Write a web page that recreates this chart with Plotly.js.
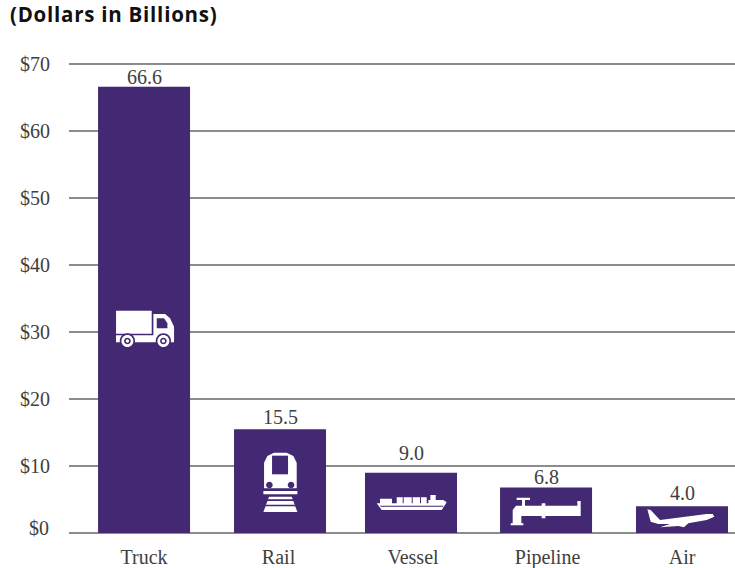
<!DOCTYPE html>
<html>
<head>
<meta charset="utf-8">
<script src="https://cdn.plot.ly/plotly-3.0.1.min.js"></script>
<style>html,body{margin:0;padding:0;background:#fff}#chart{width:735px;height:568px}.gtitle{letter-spacing:.75px}</style>
</head>
<body>
<div id="chart"></div>
<script>
// Value of freight moved by mode of transport
const categories = ['Truck', 'Rail', 'Vessel', 'Pipeline', 'Air'];
const values = [66.6, 15.5, 9.0, 6.8, 4.0];
const yTickValues = [0, 10, 20, 30, 40, 50, 60, 70];
const yTickLabels = ['', '$10', '$20', '$30', '$40', '$50', '$60', '$70'];
const baselineLabel = '$0';

const PURPLE = '#432873';
const WHITE = '#ffffff';
const INK = '#404040';
const SERIF = '"Liberation Serif", serif';

// Gaps between each bar top and its value label, and bar shifts within their slots
const labelGaps = [10, 12, 20, 10, 13];
const barOffsets = [-0.342, -0.331, -0.357, -0.353, -0.342];
const barWidth = 0.684;

// Pictograms are sketched on a 3x grid; (u0, v0) is the bar centre on its baseline.
function makeIcon(category, u0, v0, parts) {
  const px = (u, v) => ((u - u0) / 3).toFixed(2) + ',' + (-(v - v0) / 3).toFixed(2);
  const poly = pts => 'M' + pts.map(p => px(p[0], p[1])).join('L') + 'Z';
  const circle = (c, r) => {
    const k = 0.5523 * r, [x, y] = c;
    return 'M' + px(x - r, y) +
      'C' + px(x - r, y - k) + ' ' + px(x - k, y - r) + ' ' + px(x, y - r) +
      'C' + px(x + k, y - r) + ' ' + px(x + r, y - k) + ' ' + px(x + r, y) +
      'C' + px(x + r, y + k) + ' ' + px(x + k, y + r) + ' ' + px(x, y + r) +
      'C' + px(x - k, y + r) + ' ' + px(x - r, y + k) + ' ' + px(x - r, y) + 'Z';
  };
  return parts.map(part => ({
    type: 'path', layer: 'above',
    xref: 'x', yref: 'y', xsizemode: 'pixel', ysizemode: 'pixel',
    xanchor: category, yanchor: 0,
    path: part.c ? circle(part.c, part.r) : poly(part.p),
    fillcolor: part.dark ? PURPLE : WHITE,
    line: { width: 0 }
  }));
}

const truck = [
  { p: [[78, 62], [185, 62], [185, 131], [78, 131]] },
  { p: [[190, 72], [225, 72], [240, 85], [252, 110], [252, 157], [78, 157], [78, 136], [190, 136]] },
  { p: [[200, 85], [222, 85], [232, 100], [232, 115], [200, 115]], dark: true },
  { c: [112, 153], r: 23, dark: true },
  { c: [220, 153], r: 23, dark: true },
  { c: [112, 153], r: 18 },
  { c: [220, 153], r: 18 },
  { c: [112, 153], r: 10, dark: true },
  { c: [220, 153], r: 10, dark: true },
  { c: [112, 153], r: 5 },
  { c: [220, 153], r: 5 }
];

const train = [
  { p: [[522, 595], [522, 518], [532, 498], [552, 488], [590, 488], [610, 498], [620, 518], [620, 595]] },
  { p: [[546, 497], [594, 497], [594, 553], [546, 553]], dark: true },
  { c: [538, 585], r: 10, dark: true },
  { c: [603, 585], r: 10, dark: true },
  { p: [[520, 603], [622, 603], [622, 613], [520, 613]] },
  { p: [[537, 620], [605, 620], [622, 666], [520, 666]] },
  { p: [[532, 628], [610, 628], [612, 633], [530, 633]], dark: true },
  { p: [[527, 644], [615, 644], [617, 649], [525, 649]], dark: true }
];

const vessel = [
  { p: [[50, 190], [60, 190], [60, 176], [96, 176], [96, 190], [110, 190], [110, 172], [200, 172], [200, 190], [205, 190],
        [205, 180], [211, 180], [211, 165], [227, 165], [227, 180], [250, 180], [260, 187], [245, 210], [65, 210]] },
  { p: [[60, 197], [250, 197], [249, 200], [62, 200]], dark: true },
  { p: [[128, 172], [131, 172], [131, 190], [128, 190]], dark: true },
  { p: [[155, 172], [158, 172], [158, 190], [155, 190]], dark: true },
  { p: [[180, 172], [183, 172], [183, 190], [180, 190]], dark: true }
];

const pipeline = [
  { p: [[470, 173], [510, 173], [510, 180], [495, 180], [495, 197], [545, 197], [545, 190], [556, 190], [556, 197], [652, 197],
        [652, 183], [662, 183], [662, 228], [556, 228], [556, 235], [545, 235], [545, 228], [484, 228], [484, 250],
        [490, 250], [490, 256], [452, 256], [452, 250], [458, 250], [458, 210], [468, 197], [486, 197], [486, 180], [470, 180]] }
];

const plane = [
  { p: [[862, 208], [872, 210], [900, 240], [1040, 222], [1058, 222], [1063, 230], [1040, 240], [985, 250], [972, 262],
        [955, 258], [900, 262], [930, 252], [895, 252], [872, 245]] }
];

const shapes = [
  ...makeIcon('Truck', 162, 729, truck),
  ...makeIcon('Rail', 565.5, 729, train),
  ...makeIcon('Vessel', 159, 279, vessel),
  ...makeIcon('Pipeline', 562.5, 279, pipeline),
  ...makeIcon('Air', 966, 279, plane)
];

const barTrace = {
  type: 'bar',
  x: categories,
  y: values,
  width: barWidth,
  offset: barOffsets,
  marker: { color: PURPLE, line: { width: 0 } },
  hoverinfo: 'skip'
};

// Value labels sit over each bar, centred on the shifted bar
const valueLabels = values.map((v, i) => ({
  xref: 'x', yref: 'y',
  x: i + barOffsets[i] + barWidth / 2,
  y: v,
  yanchor: 'middle',
  yshift: labelGaps[i],
  text: v.toFixed(1),
  showarrow: false,
  font: { family: SERIF, size: 20, color: INK }
}));

const baselineTick = {
  xref: 'paper', yref: 'y',
  x: 0, y: 0,
  xanchor: 'right', yanchor: 'middle',
  xshift: -18, yshift: 5,
  text: baselineLabel,
  showarrow: false,
  font: { family: SERIF, size: 20, color: INK }
};

const layout = {
  width: 735,
  height: 568,
  margin: { l: 69, r: 0, t: 62, b: 33, pad: 0 },
  paper_bgcolor: '#fff',
  plot_bgcolor: '#fff',
  showlegend: false,
  title: {
    text: '<b>(Dollars in Billions)</b>',
    xref: 'container', yref: 'container',
    x: 10 / 735, xanchor: 'left',
    y: 1 - 15 / 568, yanchor: 'middle',
    font: { family: '"Open Sans", sans-serif', size: 20.5, color: '#111' }
  },
  xaxis: {
    type: 'category',
    categoryorder: 'array',
    categoryarray: categories,
    range: [-0.558, 4.394],
    showgrid: false,
    zeroline: false,
    showline: false,
    ticks: '',
    ticklabelstandoff: 8,
    tickfont: { family: SERIF, size: 20, color: INK }
  },
  yaxis: {
    range: [-0.3, 70.3],
    tickvals: yTickValues,
    ticktext: yTickLabels,
    showgrid: true,
    gridcolor: '#8c8c8c',
    gridwidth: 1.5,
    zeroline: false,
    showline: false,
    ticks: '',
    ticklabelstandoff: 18,
    tickfont: { family: SERIF, size: 20, color: INK }
  },
  shapes: shapes,
  annotations: [...valueLabels, baselineTick]
};

Plotly.newPlot('chart', [barTrace], layout, { displayModeBar: false, staticPlot: true });
</script>
</body>
</html>
